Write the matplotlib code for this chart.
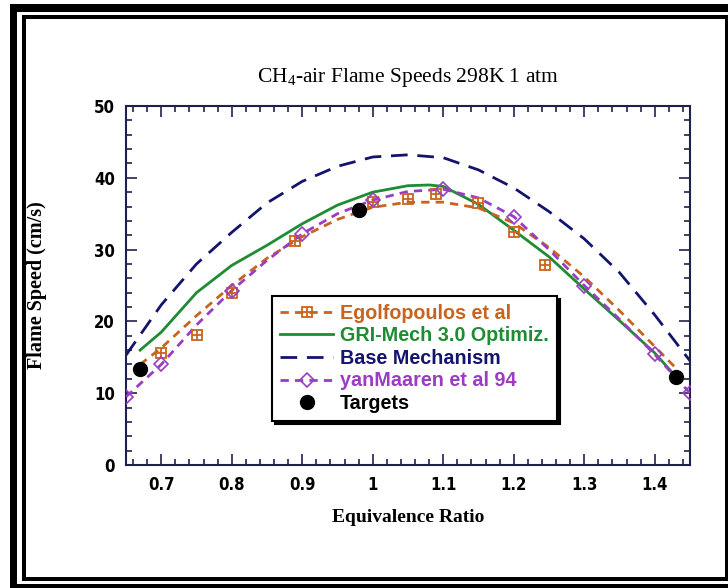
import matplotlib
matplotlib.use("Agg")
import matplotlib.pyplot as plt
from matplotlib.patches import Rectangle
from matplotlib.lines import Line2D

# data
phi_egolf = [0.70, 0.75, 0.80, 0.89, 1.00, 1.05, 1.09, 1.15, 1.20, 1.245]
s_egolf = [15.6, 18.1, 24.0, 31.2, 36.6, 37.0, 37.7, 36.5, 32.4, 27.9]

phi_egolf_fit = [0.67, 0.70, 0.75, 0.80, 0.85, 0.90, 0.95, 1.00, 1.05, 1.10, 1.15, 1.20, 1.25, 1.30, 1.35, 1.40, 1.43]
s_egolf_fit = [14.0, 16.3, 20.8, 25.0, 28.8, 31.8, 34.2, 35.9, 36.6, 36.6, 35.8, 33.7, 30.3, 26.2, 21.5, 16.5, 13.5]

phi_gri = [0.67, 0.70, 0.75, 0.80, 0.85, 0.90, 0.95, 1.00, 1.05, 1.08, 1.10, 1.15, 1.20, 1.25, 1.30, 1.35, 1.40, 1.43]
s_gri = [16.0, 18.5, 24.0, 27.8, 30.6, 33.6, 36.2, 38.0, 38.9, 39.0, 38.8, 36.3, 32.7, 29.0, 24.5, 20.1, 15.6, 12.3]

phi_base = [0.65, 0.70, 0.75, 0.80, 0.85, 0.90, 0.95, 1.00, 1.05, 1.10, 1.15, 1.20, 1.25, 1.30, 1.35, 1.40, 1.45]
s_base = [15.3, 22.3, 28.0, 32.4, 36.5, 39.5, 41.6, 42.9, 43.2, 42.8, 41.1, 38.6, 35.3, 31.5, 26.8, 20.9, 14.5]

phi_vm = [0.65, 0.70, 0.75, 0.80, 0.85, 0.90, 0.95, 1.00, 1.05, 1.10, 1.15, 1.20, 1.25, 1.30, 1.35, 1.40, 1.45]
s_vm = [9.5, 14.0, 19.5, 24.3, 28.5, 32.2, 35.0, 36.9, 38.1, 38.4, 37.2, 34.6, 30.0, 25.0, 20.3, 15.4, 10.0]
phi_vm_pts = [0.65, 0.70, 0.80, 0.90, 1.00, 1.10, 1.20, 1.30, 1.40, 1.45]
s_vm_pts = [9.5, 14.0, 24.3, 32.2, 36.9, 38.4, 34.6, 25.0, 15.4, 10.0]

phi_target = [0.67, 0.98, 1.43]
s_target = [13.4, 35.5, 12.3]

xticks = [0.7, 0.8, 0.9, 1.0, 1.1, 1.2, 1.3, 1.4]
xtick_labels = ["0.7", "0.8", "0.9", "1", "1.1", "1.2", "1.3", "1.4"]
yticks = [0, 10, 20, 30, 40, 50]

orange = "#c8641e"
green = "#1e8c32"
navy = "#14146e"
purple = "#9b3cc3"

plt.rcParams["mathtext.fontset"] = "custom"
plt.rcParams["mathtext.rm"] = "Liberation Serif"

W, H = 728, 588
fig = plt.figure(figsize=(W / 100, H / 100), dpi=100)


def px_rect(x0, y0, x1, y1, color, z=-10):
    r = Rectangle((x0 / W, 1 - y1 / H), (x1 - x0) / W, (y1 - y0) / H,
                  transform=fig.transFigure, facecolor=color, edgecolor="none", zorder=z)
    fig.add_artist(r)


# double black frame round the picture
px_rect(10, 4, 740, 600, "black")
px_rect(17, 12, 740, 584, "white")
px_rect(22, 15, 740, 581, "black")
px_rect(26, 19, 725, 577, "white")

ax = fig.add_axes([126 / W, 1 - 465 / H, 564 / W, 359 / H])
ax.set_facecolor("white")

ax.plot(phi_base, s_base, color=navy, lw=2, ls=(0, (6, 3.5)), zorder=2)
ax.plot(phi_gri, s_gri, color=green, lw=2, zorder=3)
ax.plot(phi_egolf_fit, s_egolf_fit, color=orange, lw=2, ls=(0, (3, 2.2)), zorder=3)
ax.plot(phi_vm, s_vm, color=purple, lw=2, ls=(0, (3, 2.2)), zorder=3)
ax.plot(phi_egolf, s_egolf, ls="none", marker="s", ms=7, mfc="none", mec=orange, mew=1.3, zorder=4)
ax.plot(phi_egolf, s_egolf, ls="none", marker="+", ms=7, mec=orange, mew=1.3, zorder=4)
ax.plot(phi_vm_pts, s_vm_pts, ls="none", marker="D", ms=7, mfc="none", mec=purple, mew=1.2, zorder=4)
ax.plot(phi_target, s_target, ls="none", marker="o", ms=10, color="black", zorder=5)

ax.set_xlim(0.65, 1.45)
ax.set_ylim(0, 50)
ax.set_xticks(xticks)
ax.set_xticklabels(xtick_labels)
ax.set_yticks(yticks)
ax.set_xticks([0.66 + 0.02 * i for i in range(40)], minor=True)
ax.set_yticks(list(range(0, 51, 2)), minor=True)
ax.tick_params(which="both", direction="in", top=True, right=True, color="#202050", width=1.2)
ax.tick_params(which="major", length=8, pad=8)
ax.tick_params(which="minor", length=4)
for s in ax.spines.values():
    s.set_color("#202050")
    s.set_linewidth(1.5)

for lab in ax.get_xticklabels() + ax.get_yticklabels():
    lab.set_fontfamily(["DejaVu Sans"])
    lab.set_fontstretch("condensed")
    lab.set_fontweight("bold")
    lab.set_fontsize(12)

serif = ["Liberation Serif", "DejaVu Serif"]
ax.set_xlabel("Equivalence Ratio", family=serif, weight="bold", size=14, labelpad=11)
ax.set_ylabel("Flame Speed (cm/s)", family=serif, weight="bold", size=14.5, labelpad=34)
ax.set_title(r"CH$_4$-air Flame Speeds 298K 1 atm", family=serif, size=15.5, pad=17)

h_egolf = (Line2D([], [], color=orange, lw=2, ls=(0, (3, 2.2))),
           Line2D([], [], ls="none", marker="s", ms=7, mfc="none", mec=orange, mew=1.3),
           Line2D([], [], ls="none", marker="+", ms=7, mec=orange, mew=1.3))
h_gri = Line2D([], [], color=green, lw=2)
h_base = Line2D([], [], color=navy, lw=2, ls=(0, (6, 3.5)))
h_vm = (Line2D([], [], color=purple, lw=2, ls=(0, (3, 2.2))),
        Line2D([], [], ls="none", marker="D", ms=7, mfc="none", mec=purple, mew=1.2))
h_t = Line2D([], [], ls="none", marker="o", ms=10, color="black")

leg = ax.legend([h_egolf, h_gri, h_base, h_vm, h_t],
                ["Egolfopoulos et al", "GRI-Mech 3.0 Optimiz.", "Base Mechanism",
                 "yanMaaren et al 94", "Targets"],
                loc="upper left", bbox_to_anchor=(0.259, 0.471), borderaxespad=0,
                handlelength=2.7, handletextpad=0.35, labelspacing=0.18,
                borderpad=0.4, fancybox=False, framealpha=1, edgecolor="black",
                shadow={"color": "black", "alpha": 1},
                prop=dict(family=["Liberation Sans", "DejaVu Sans"], weight="bold", size=14.2))
leg.get_frame().set_linewidth(1.5)
for txt, c in zip(leg.get_texts(), [orange, green, navy, purple, "black"]):
    txt.set_color(c)

fig.savefig("out.png", dpi=100)
